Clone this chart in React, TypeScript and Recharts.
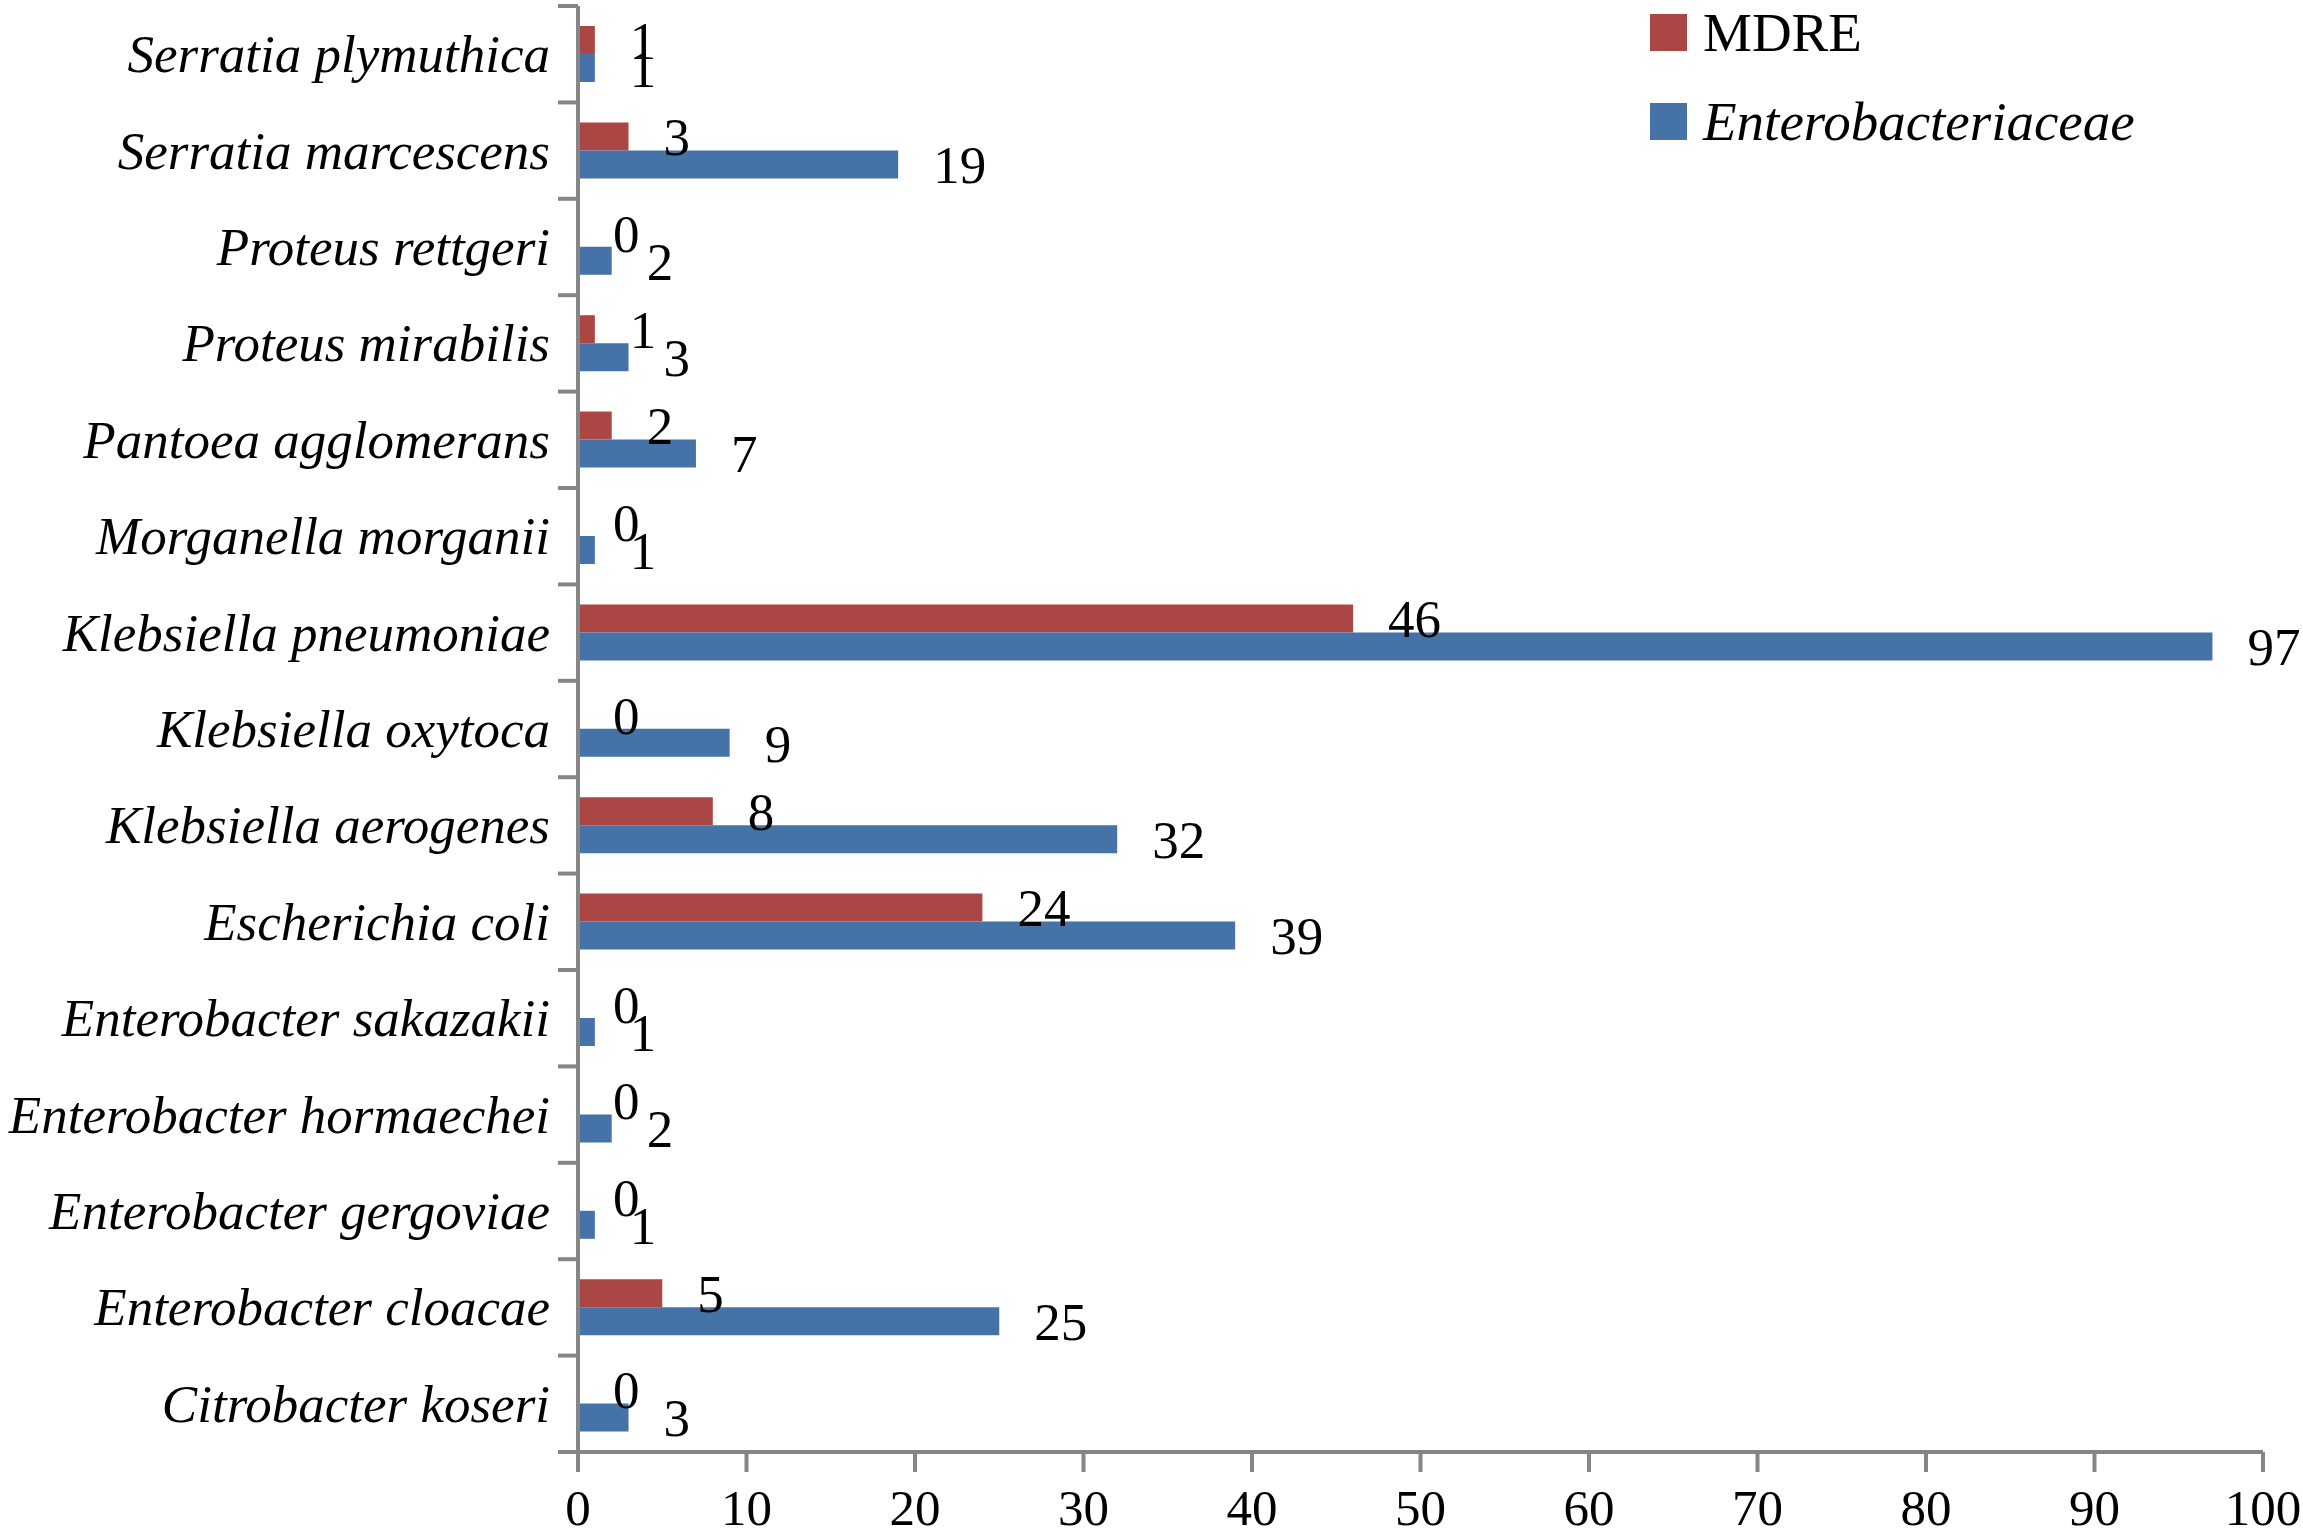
import React from "react";
import { BarChart, Bar, XAxis, YAxis, Legend, LabelList, Cell } from "recharts";

const categories = [
  "Serratia plymuthica",
  "Serratia marcescens",
  "Proteus rettgeri",
  "Proteus mirabilis",
  "Pantoea agglomerans",
  "Morganella morganii",
  "Klebsiella pneumoniae",
  "Klebsiella oxytoca",
  "Klebsiella aerogenes",
  "Escherichia coli",
  "Enterobacter sakazakii",
  "Enterobacter hormaechei",
  "Enterobacter gergoviae",
  "Enterobacter cloacae",
  "Citrobacter koseri",
];
const mdreValues = [1, 3, 0, 1, 2, 0, 46, 0, 8, 24, 0, 0, 0, 5, 0];
const enteroValues = [1, 19, 2, 3, 7, 1, 97, 9, 32, 39, 1, 2, 1, 25, 3];
const xTicks = [0, 10, 20, 30, 40, 50, 60, 70, 80, 90, 100];
const legendOrder = ["MDRE", "Enterobacteriaceae"];

const data = categories.map((name, i) => ({
  name,
  MDRE: mdreValues[i],
  Enterobacteriaceae: enteroValues[i],
}));

const FONT = '"Liberation Serif", "Times New Roman", serif';
const AXIS = "#868686";
const RED = "#AA4643";
const BLUE = "#4572A7";

const CategoryTick = (props: any) => {
  const { x, y, payload, index, visibleTicksCount } = props;
  const half = payload && payload.offset ? payload.offset : 48;
  const axisX = x + 28;
  const count = visibleTicksCount ?? categories.length;
  return (
    <g>
      <line x1={axisX - 20} x2={axisX} y1={y - half} y2={y - half} stroke={AXIS} strokeWidth={4} />
      {index === count - 1 && (
        <line x1={axisX - 20} x2={axisX} y1={y + half} y2={y + half} stroke={AXIS} strokeWidth={4} />
      )}
      <text
        x={x}
        y={y}
        textAnchor="end"
        dominantBaseline="central"
        fontFamily={FONT}
        fontStyle="italic"
        fontSize={53}
        fill="#000"
      >
        {payload.value}
      </text>
    </g>
  );
};

const LegendContent = (props: any) => {
  const payload = props.payload || [];
  const items = legendOrder
    .map((name) => payload.find((p: any) => p.value === name))
    .filter(Boolean);
  return (
    <div style={{ fontFamily: FONT }}>
      {items.map((p: any, i: number) => (
        <div key={i} style={{ display: "flex", alignItems: "center", height: 89 }}>
          <div style={{ width: 37, height: 37, background: p.color, marginRight: 16 }} />
          <span
            style={{
              fontSize: 55,
              fontStyle: p.value === "MDRE" ? "normal" : "italic",
              color: "#000",
              lineHeight: 1,
            }}
          >
            {p.value}
          </span>
        </div>
      ))}
    </div>
  );
};

const labelStyle = { fontFamily: FONT, fontSize: 53, fill: "#000" };

export default function App() {
  return (
    <div style={{ position: "absolute", left: 0, top: 0, width: 2303, height: 1538, background: "#fff" }}>
      <BarChart
        width={2303}
        height={1538}
        data={data}
        layout="vertical"
        margin={{ top: 6, right: 40, bottom: 2, left: 0 }}
        barSize={28}
        barGap={0}
      >
        <XAxis
          type="number"
          domain={[0, 100]}
          ticks={xTicks}
          interval={0}
          height={84}
          axisLine={{ stroke: AXIS, strokeWidth: 4 }}
          tickLine={{ stroke: AXIS, strokeWidth: 4 }}
          tickSize={20}
          tickMargin={17}
          tick={{ fontFamily: FONT, fontSize: 51, fill: "#000" }}
        />
        <YAxis
          type="category"
          dataKey="name"
          width={578}
          interval={0}
          axisLine={{ stroke: AXIS, strokeWidth: 4 }}
          tickLine={false}
          tickSize={20}
          tickMargin={8}
          tick={<CategoryTick />}
        />
        <Legend
          layout="vertical"
          verticalAlign="middle"
          align="center"
          content={<LegendContent />}
          wrapperStyle={{ position: "absolute", left: 1650, top: -12, width: 650, height: 200 }}
        />
        <Bar dataKey="MDRE" name="MDRE" fill={RED} minPointSize={0.01} isAnimationActive={false}>
          {mdreValues.map((v, i) => (
            <Cell key={i} fill={RED} fillOpacity={v === 0 ? 0 : 1} />
          ))}
          <LabelList dataKey="MDRE" position="right" offset={35} style={labelStyle} />
        </Bar>
        <Bar
          dataKey="Enterobacteriaceae"
          name="Enterobacteriaceae"
          fill={BLUE}
          minPointSize={0.01}
          isAnimationActive={false}
        >
          <LabelList dataKey="Enterobacteriaceae" position="right" offset={35} style={labelStyle} />
        </Bar>
      </BarChart>
    </div>
  );
}
